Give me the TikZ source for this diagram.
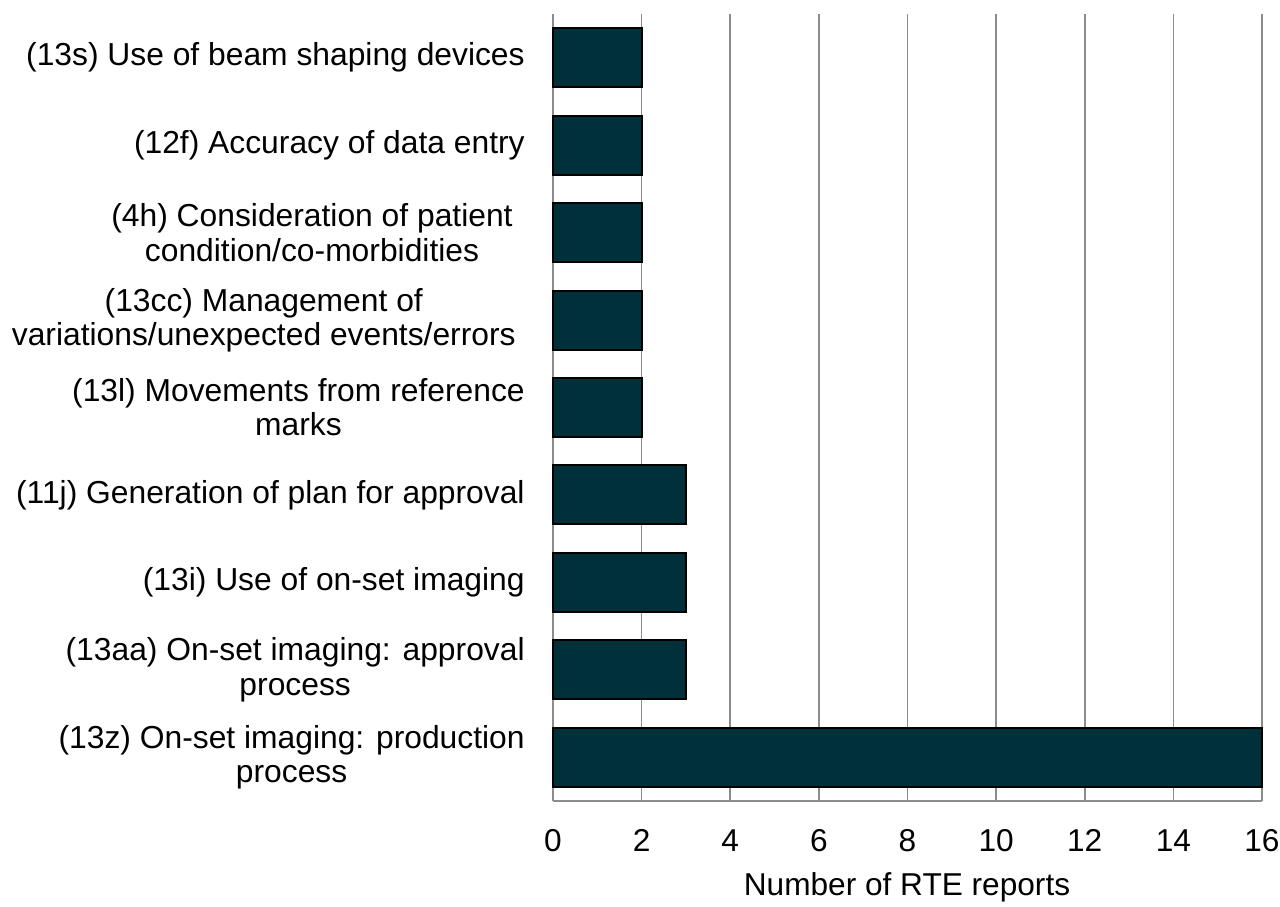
\documentclass[tikz,border=0pt]{standalone}
\usepackage{fontspec}
\setmainfont{Liberation Sans}

\definecolor{bardark}{HTML}{00313A}
\definecolor{gridgray}{HTML}{8C8C8C}

\tikzset{
	bar/.style={fill=bardark, draw=black, line width=1.1pt},
	gridline/.style={draw=gridgray, line width=0.9pt},
	catlabel/.style={anchor=east, align=center, inner sep=0pt, font=\fontsize{18.1}{19.4}\selectfont},
	ticklabel/.style={anchor=base, inner sep=0pt, font=\fontsize{18}{20}\selectfont},
}

\begin{document}
\begin{tikzpicture}[x=0.02cm, y=-0.02cm]
	\useasboundingbox (0,0) rectangle (1280,906);
	
	% vertical grid and tick labels
	\foreach \v in {0,2,...,16}{
		\draw[gridline] (553+44.31*\v,14) -- (553+44.31*\v,801);
		\node[ticklabel] (tick\v) at (553+44.31*\v,851) {\v};
	}
	\draw[gridline] (553,801) -- (1262,801);
	
	% bars, top to bottom (value / right edge of label / label)
	\foreach \val/\rx/\lab [count=\i] in {
		2/525/{(13s) Use of beam shaping devices},
		2/525/{(12f) Accuracy of data entry},
		2/513/{(4h) Consideration of patient\\condition/co-morbidities},
		2/516/{(13cc) Management of\\variations/unexpected events/errors},
		2/525/{(13l) Movements from reference\\marks},
		3/525/{(11j) Generation of plan for approval},
		3/525/{(13i) Use of on-set imaging},
		3/525/{(13aa) On-set imaging: approval\\process},
		16/525/{(13z) On-set imaging: production\\process}}{
		\pgfmathsetmacro{\yc}{14+87.44*(\i-0.5)}
		\draw[bar] (553,\yc-29.5) rectangle (553+44.31*\val,\yc+29.5);
		\node[catlabel] (cat\i) at (\rx,\yc) {\lab};
	}
	
	\node[ticklabel] (xtitle) at (907,895) {Number of RTE reports};
\end{tikzpicture}
\end{document}
